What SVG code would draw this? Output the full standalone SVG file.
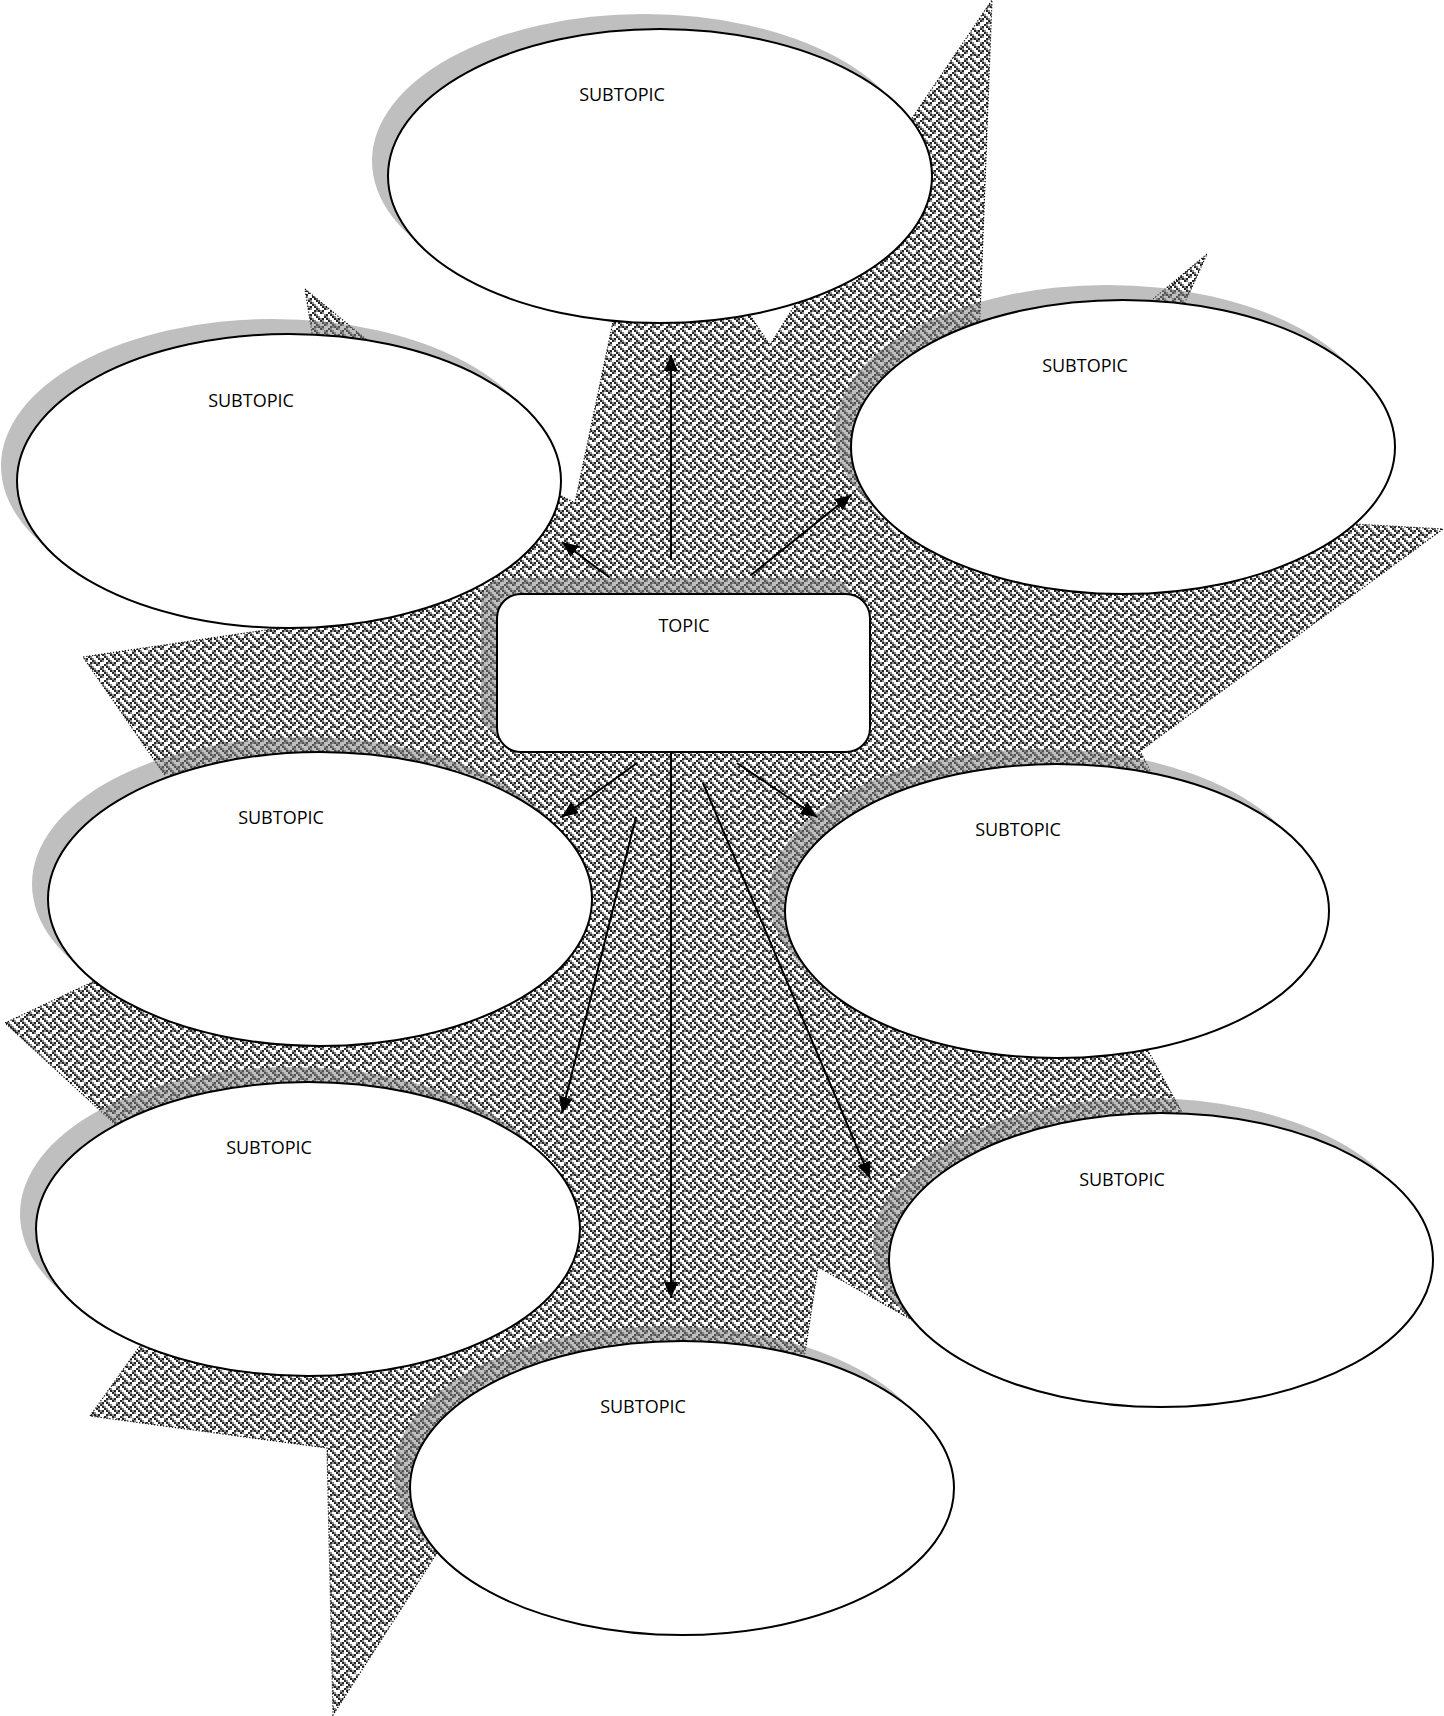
<svg xmlns="http://www.w3.org/2000/svg" width="1444" height="1716" viewBox="0 0 1444 1716">
<defs>
<pattern id="weave" x="0" y="0" width="16" height="16" patternUnits="userSpaceOnUse">
<rect width="16" height="16" fill="#ffffff"/>
<g fill="#8c8c8c">
<rect x="2" y="0" width="2" height="2"/><rect x="10" y="0" width="2" height="2"/>
<rect x="4" y="2" width="2" height="2"/><rect x="12" y="2" width="2" height="2"/>
<rect x="6" y="4" width="2" height="2"/><rect x="14" y="4" width="2" height="2"/>
<rect x="0" y="6" width="2" height="2"/><rect x="12" y="6" width="2" height="2"/>
<rect x="2" y="8" width="2" height="2"/><rect x="10" y="8" width="2" height="2"/>
<rect x="4" y="10" width="2" height="2"/><rect x="12" y="10" width="2" height="2"/>
<rect x="6" y="12" width="2" height="2"/><rect x="14" y="12" width="2" height="2"/>
<rect x="0" y="14" width="2" height="2"/><rect x="8" y="14" width="2" height="2"/>
</g>
<g fill="#262626">
<rect x="0" y="0" width="2" height="2"/><rect x="8" y="0" width="2" height="2"/>
<rect x="2" y="2" width="2" height="2"/><rect x="6" y="2" width="2" height="2"/><rect x="10" y="2" width="2" height="2"/>
<rect x="4" y="4" width="2" height="2"/><rect x="12" y="4" width="2" height="2"/>
<rect x="2" y="6" width="2" height="2"/><rect x="10" y="6" width="2" height="2"/><rect x="14" y="6" width="2" height="2"/>
<rect x="0" y="8" width="2" height="2"/><rect x="8" y="8" width="2" height="2"/>
<rect x="6" y="10" width="2" height="2"/><rect x="10" y="10" width="2" height="2"/>
<rect x="4" y="12" width="2" height="2"/><rect x="12" y="12" width="2" height="2"/>
<rect x="2" y="14" width="2" height="2"/><rect x="6" y="14" width="2" height="2"/><rect x="14" y="14" width="2" height="2"/>
</g>
</pattern>
<marker id="arrow" viewBox="0 0 16 14" markerWidth="16" markerHeight="14" refX="16" refY="7" orient="auto" markerUnits="userSpaceOnUse">
<path d="M0,0 L16,7 L0,14 z" fill="#000"/>
</marker>
</defs>
<style>
.burst{fill:url(#weave);stroke:#000;stroke-width:1.2;stroke-dasharray:1.2 1.8}
.shadow{fill:#808080;fill-opacity:0.5;stroke:none}
.node{fill:#fff;stroke:#000;stroke-width:2}
.lbl{font-family:"Open Sans","Noto Sans","Liberation Sans",sans-serif;font-size:18px;fill:#000;text-anchor:middle}
.conn{stroke:#000;stroke-width:2;fill:none;marker-end:url(#arrow)}
</style>
<rect width="1444" height="1716" fill="#fff"/>
<g id="background-burst">
<polygon class="burst" points="175,790 83,657 320,622 312,333 305,289 367,340 540,485 575,503 617,303 745,308 770,345 798,300 877,170 992,0 979,340 1128,320 1207,254 1177,320 1300,521 1443,529 1140,751 1160,790 1120,1000 1200,1145 960,1347 818,1267 800,1385 471,1500 333,1715 327,1448 90,1416 150,1332 130,1138 5,1023 150,955"/>
</g>
<g id="shadows">
<ellipse class="shadow" cx="644" cy="161" rx="272" ry="147"/>
<ellipse class="shadow" cx="273" cy="466" rx="272" ry="147"/>
<ellipse class="shadow" cx="1107" cy="432" rx="272" ry="147"/>
<ellipse class="shadow" cx="304" cy="884" rx="272" ry="147"/>
<ellipse class="shadow" cx="1041" cy="896" rx="272" ry="147"/>
<ellipse class="shadow" cx="292" cy="1214" rx="272" ry="147"/>
<ellipse class="shadow" cx="1145" cy="1245" rx="272" ry="147"/>
<ellipse class="shadow" cx="666" cy="1473" rx="272" ry="147"/>
<rect class="shadow" x="481" y="578" width="372" height="158" rx="24"/>
</g>
<g id="subtopic-top"><ellipse class="node" cx="660" cy="176" rx="272" ry="147"/><text class="lbl" x="622" y="101">SUBTOPIC</text></g>
<g id="subtopic-upper-left"><ellipse class="node" cx="289" cy="481" rx="272" ry="147"/><text class="lbl" x="251" y="407">SUBTOPIC</text></g>
<g id="subtopic-upper-right"><ellipse class="node" cx="1123" cy="447" rx="272" ry="147"/><text class="lbl" x="1085" y="372">SUBTOPIC</text></g>
<g id="subtopic-middle-left"><ellipse class="node" cx="320" cy="899" rx="272" ry="147"/><text class="lbl" x="281" y="824">SUBTOPIC</text></g>
<g id="subtopic-middle-right"><ellipse class="node" cx="1057" cy="911" rx="272" ry="147"/><text class="lbl" x="1018" y="836">SUBTOPIC</text></g>
<g id="subtopic-lower-left"><ellipse class="node" cx="308" cy="1229" rx="272" ry="147"/><text class="lbl" x="269" y="1154">SUBTOPIC</text></g>
<g id="subtopic-lower-right"><ellipse class="node" cx="1161" cy="1260" rx="272" ry="147"/><text class="lbl" x="1122" y="1186">SUBTOPIC</text></g>
<g id="subtopic-bottom"><ellipse class="node" cx="682" cy="1488" rx="272" ry="147"/><text class="lbl" x="643" y="1413">SUBTOPIC</text></g>
<g id="topic"><rect class="node" x="497" y="594" width="373" height="158" rx="24"/><text class="lbl" x="684" y="632">TOPIC</text></g>
<g id="connectors">
<line class="conn" x1="671" y1="560" x2="671" y2="355"/>
<line class="conn" x1="609" y1="577" x2="562" y2="542"/>
<line class="conn" x1="751" y1="575" x2="851" y2="495"/>
<line class="conn" x1="637" y1="763" x2="562" y2="817"/>
<line class="conn" x1="737" y1="763" x2="817" y2="817"/>
<line class="conn" x1="636" y1="817" x2="562" y2="1113"/>
<line class="conn" x1="671" y1="753" x2="671" y2="1298"/>
<line class="conn" x1="703" y1="783" x2="870" y2="1178"/>
</g>
</svg>
